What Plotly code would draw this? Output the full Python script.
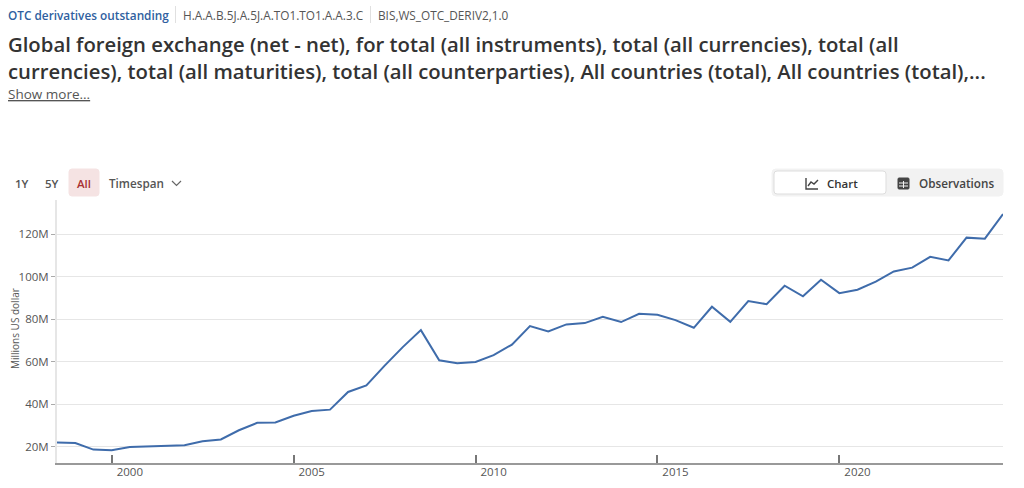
import plotly.graph_objects as go

dates = ["1998-07-01","1999-01-01","1999-07-01","2000-01-01","2000-07-01","2001-01-01","2001-07-01","2002-01-01",
         "2002-07-01","2003-01-01","2003-07-01","2004-01-01","2004-07-01","2005-01-01","2005-07-01","2006-01-01",
         "2006-07-01","2007-01-01","2007-07-01","2008-01-01","2008-07-01","2009-01-01","2009-07-01","2010-01-01",
         "2010-07-01","2011-01-01","2011-07-01","2012-01-01","2012-07-01","2013-01-01","2013-07-01","2014-01-01",
         "2014-07-01","2015-01-01","2015-07-01","2016-01-01","2016-07-01","2017-01-01","2017-07-01","2018-01-01",
         "2018-07-01","2019-01-01","2019-07-01","2020-01-01","2020-07-01","2021-01-01","2021-07-01","2022-01-01",
         "2022-07-01","2023-01-01","2023-07-01","2024-01-01","2024-07-01"]
values = [22.0,21.7,18.6,18.3,19.8,20.1,20.3,20.6,22.5,23.4,27.7,31.2,31.4,34.5,36.8,37.4,
          45.7,48.8,58.0,66.8,74.8,60.6,59.2,59.8,63.0,68.0,76.7,74.2,77.5,78.1,81.1,78.6,
          82.5,82.0,79.5,75.9,85.8,78.7,88.5,87.0,95.7,90.7,98.5,92.2,93.8,97.6,102.4,104.2,
          109.3,107.6,118.3,117.8,129.4]
y_ticks = [20,40,60,80,100,120]
y_labels = ["20M","40M","60M","80M","100M","120M"]
x_label_pos = ["2000-07-01","2005-07-01","2010-07-01","2015-07-01","2020-07-01"]
x_labels = ["2000","2005","2010","2015","2020"]

W, H = 1024, 488
L, R, T, B = 57, 21, 200, 25
FONT = "Open Sans"

def px(x): return (x - L) / (W - L - R)
def py(y): return 1 - (y - T) / (H - T - B)

def text(x, y, s, size, color, weight=400, anchor="left", angle=0):
    return dict(x=px(x), y=py(y), xref="paper", yref="paper", text=s, showarrow=False,
                xanchor=anchor, yanchor="middle", align="left", textangle=angle, borderpad=0,
                font=dict(family=FONT, size=size, color=color, weight=weight))

def rrect(x0, y0, x1, y1, r, fill, line=None):
    X0, X1, Y0, Y1 = px(x0), px(x1), py(y0), py(y1)
    rx, ry = r / (W - L - R), r / (H - T - B)
    d = (f"M{X0+rx},{Y0} L{X1-rx},{Y0} Q{X1},{Y0} {X1},{Y0-ry} L{X1},{Y1+ry} Q{X1},{Y1} {X1-rx},{Y1} "
         f"L{X0+rx},{Y1} Q{X0},{Y1} {X0},{Y1+ry} L{X0},{Y0-ry} Q{X0},{Y0} {X0+rx},{Y0} Z")
    return dict(type="path", path=d, xref="paper", yref="paper", fillcolor=fill,
                line=dict(color=line or fill, width=1), layer="below")

def seg(pts, color, width=1.3):
    d = "M" + " L".join(f"{px(a)},{py(b)}" for a, b in pts)
    return dict(type="path", path=d, xref="paper", yref="paper", line=dict(color=color, width=width))

DARK = "#333333"
GREY = "#555555"
annotations = [
    text(7, 15, "OTC derivatives outstanding", 11.8, "#2f5f9f", 600),
    text(182, 15, "H.A.A.B.5J.A.5J.A.TO1.TO1.A.A.3.C", 11.8, GREY),
    text(377, 15, "BIS,WS_OTC_DERIV2,1.0", 11.8, GREY),
    text(7, 44, "Global foreign exchange (net - net), for total (all instruments), total (all currencies), total (all", 20.3, DARK, 600),
    text(7, 71, "currencies), total (all maturities), total (all counterparties), All countries (total), All countries (total),...", 20.3, DARK, 600),
    text(7, 94, "<u>Show more...</u>", 13.5, GREY),
    text(14, 183, "1Y", 11.5, GREY, 600),
    text(44, 183, "5Y", 11.5, GREY, 600),
    text(76, 183, "All", 11.5, "#a83232", 600),
    text(108, 183, "Timespan", 11.7, GREY, 600),
    text(826, 183, "Chart", 11.5, DARK, 600),
    text(918, 183, "Observations", 11.7, "#444444", 600),
    text(15, 329, "Millions US dollar", 10, GREY, anchor="center", angle=-90),
]
shapes = [
    seg([(175.5, 6), (175.5, 23)], "#e0e0e0", 1),
    seg([(370.5, 6), (370.5, 23)], "#e0e0e0", 1),
    rrect(69, 169, 99, 196, 3, "#f5e3e3"),
    seg([(172, 181), (176.5, 185.5), (181, 181)], "#666666", 1.2),
    rrect(772, 169, 1003, 196, 4, "#f2f2f2"),
    rrect(774, 171, 886, 194, 3, "#ffffff", "#dddddd"),
    seg([(806, 178), (806, 189), (818, 189)], "#444444", 1.4),
    seg([(808, 186), (811, 182), (814, 184), (818, 180)], "#444444", 1.4),
    rrect(898, 178, 909, 189, 1, "#444444"),
    seg([(899, 183), (908, 183)], "#f2f2f2", 1),
    seg([(899, 186), (908, 186)], "#f2f2f2", 1),
    seg([(903.5, 181), (903.5, 188)], "#f2f2f2", 1),
]

fig = go.Figure(go.Scatter(x=dates, y=values, mode="lines", line=dict(color="#3f6cab", width=2), hoverinfo="skip"))
fig.update_layout(
    width=W, height=H, margin=dict(l=L, r=R, t=T, b=B, autoexpand=False), paper_bgcolor="#ffffff", plot_bgcolor="#ffffff",
    showlegend=False, font=dict(family=FONT, size=11.5, color=GREY),
    annotations=annotations, shapes=shapes,
    xaxis=dict(type="date", range=["1998-07-01", "2024-07-01"], showgrid=False, zeroline=False, automargin=False,
               showline=True, linecolor="#999999", linewidth=2, ticklabelstandoff=-3,
               tickmode="array", tickvals=x_label_pos, ticktext=x_labels, ticks="", ticklen=0,
               minor=dict(ticks="inside", ticklen=8, tickwidth=2, tickcolor="#777777", tick0="2000-01-01", dtick="M60", showgrid=False),
               tickfont=dict(family=FONT, size=11.5, color=GREY)),
    yaxis=dict(range=[12.3, 136], tickmode="array", tickvals=y_ticks, ticktext=y_labels, automargin=False,
               showgrid=True, gridcolor="#e6e6e6", gridwidth=1, zeroline=False,
               showline=True, linecolor="#e6e6e6", linewidth=2,
               ticks="outside", ticklen=4, tickcolor="#aaaaaa", tickwidth=1,
               tickfont=dict(family=FONT, size=11.5, color=GREY)),
)
fig.write_html("out.html", config=dict(displayModeBar=False),
               post_script="document.body.style.margin='0';document.body.style.overflow='hidden';")
